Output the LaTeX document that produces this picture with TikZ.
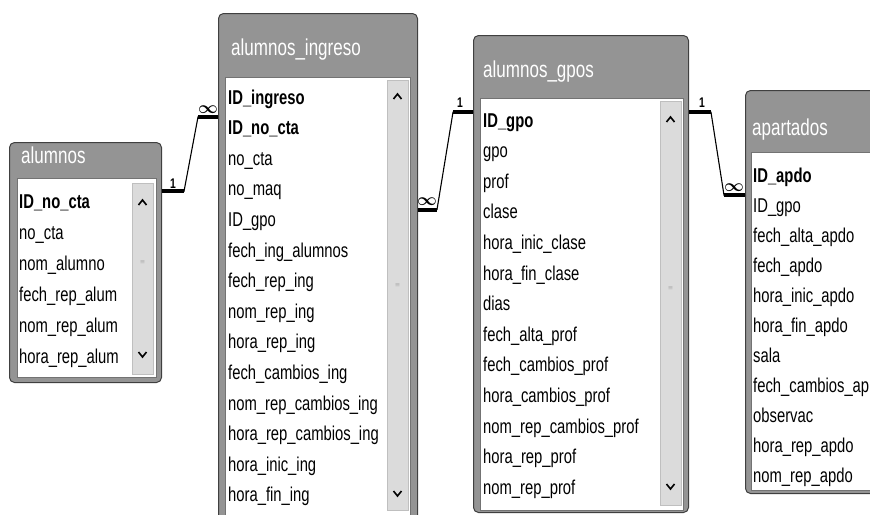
\documentclass[tikz,border=0pt]{standalone}
\usepackage{amsmath}
\usepackage{fontspec}
\setmainfont{Liberation Sans}[FakeStretch=0.74]
\begin{document}
\begin{tikzpicture}[x=1pt,y=-1pt,
  frame/.style={draw=black!75,line width=1pt,fill=black!42,rounded corners=5pt,inner sep=0pt,anchor=north west},
  inbox/.style={draw=black!55,line width=0.8pt,fill=white,inner sep=0pt,anchor=north west},
  ttl/.style={anchor=west,text=white,font=\fontsize{23}{23}\selectfont,inner sep=0pt},
  row/.style={anchor=base west,font=\fontsize{20}{20}\selectfont,inner sep=0pt},
  scroll/.style={fill=black!14,draw=black!25,line width=0.5pt},
  chev/.style={draw=black,line width=1.6pt},
  rel/.style={draw=black,line width=1.1pt},
  stub/.style={draw=black,line width=4pt},
  card/.style={font=\bfseries\fontsize{14}{14}\selectfont,inner sep=0pt},
  infl/.style={font=\bfseries\fontsize{17}{17}\selectfont,inner sep=0pt}]
\clip (0,0) rectangle (870,514);
\fill[white] (0,0) rectangle (870,514);

% ---------- alumnos ----------
\node[frame,minimum width=152pt,minimum height=240pt] (aF) at (9,142) {};
\node[inbox,minimum width=139pt,minimum height=199pt] (aI) at (17,178) {};
\node[ttl] (aT) at (21,155) {alumnos};
\fill[scroll] (132,183) rectangle (153,374);
\draw[chev] (138.5,205) -- (142.5,200) -- (146.5,205);
\draw[chev] (138.5,352) -- (142.5,357) -- (146.5,352);
\node[font=\tiny,text=black!50] (aM) at (142.5,262) {$\equiv$};
\foreach \t [count=\i from 0] in {{\bfseries ID\_no\_cta},no\_cta,nom\_alumno,fech\_rep\_alum,nom\_rep\_alum,hora\_rep\_alum}
  \node[row] (a\i) at (19,208+31*\i) {\t};

% ---------- alumnos_ingreso ----------
\node[frame,minimum width=199pt,minimum height=510pt] (iF) at (218,13) {};
\node[inbox,minimum width=185pt,minimum height=440pt] (iI) at (225,77) {};
\node[ttl] (iT) at (231,50) {alumnos\_ingreso};
\fill[scroll] (387,80) rectangle (408,510);
\draw[chev] (393.5,99) -- (397.5,94) -- (401.5,99);
\draw[chev] (393.5,491) -- (397.5,496) -- (401.5,491);
\node[font=\tiny,text=black!50] (iM) at (397.5,285) {$\equiv$};
\foreach \t [count=\i from 0] in {{\bfseries ID\_ingreso},{\bfseries ID\_no\_cta},no\_cta,no\_maq,ID\_gpo,fech\_ing\_alumnos,fech\_rep\_ing,nom\_rep\_ing,hora\_rep\_ing,fech\_cambios\_ing,nom\_rep\_cambios\_ing,hora\_rep\_cambios\_ing,hora\_inic\_ing,hora\_fin\_ing}
  \node[row] (i\i) at (228,104+30.6*\i) {\t};

% ---------- alumnos_gpos ----------
\node[frame,minimum width=215pt,minimum height=477pt] (gF) at (473,35) {};
\node[inbox,minimum width=203pt,minimum height=412pt] (gI) at (480,98) {};
\node[ttl] (gT) at (483,72) {alumnos\_gpos};
\fill[scroll] (660,101) rectangle (681,505);
\draw[chev] (666.5,122) -- (670.5,117) -- (674.5,122);
\draw[chev] (666.5,484) -- (670.5,489) -- (674.5,484);
\node[font=\tiny,text=black!50] (gM) at (670.5,288) {$\equiv$};
\foreach \t [count=\i from 0] in {{\bfseries ID\_gpo},gpo,prof,clase,hora\_inic\_clase,hora\_fin\_clase,dias,fech\_alta\_prof,fech\_cambios\_prof,hora\_cambios\_prof,nom\_rep\_cambios\_prof,hora\_rep\_prof,nom\_rep\_prof}
  \node[row] (g\i) at (483,127+30.6*\i) {\t};

% ---------- apartados ----------
\node[frame,minimum width=140pt,minimum height=403pt] (pF) at (745,90) {};
\node[inbox,minimum width=130pt,minimum height=338pt] (pI) at (751,152) {};
\node[ttl] (pT) at (752,130) {apartados};
\foreach \t [count=\i from 0] in {{\bfseries ID\_apdo},ID\_gpo,fech\_alta\_apdo,fech\_apdo,hora\_inic\_apdo,hora\_fin\_apdo,sala,fech\_cambios\_ap,observac,hora\_rep\_apdo,nom\_rep\_apdo}
  \node[row] (p\i) at (753,182+30*\i) {\t};

% ---------- relationships ----------
% alumnos (1) -- alumnos_ingreso (inf)
\path ([yshift=11pt]aF.east|-a0) coordinate (r1s) ++(22,0) coordinate (r1k)
      ([yshift=12pt]iF.west|-i1) coordinate (r1e) ++(-20,0) coordinate (r1j);
\draw[rel] (r1s) -- (r1k) -- (r1j) -- (r1e);
\draw[stub] (r1s) -- (r1k);
\draw[stub] (r1j) -- (r1e);
\node[card] (l1a) at (173,184) {1};
\node[infl] (l1b) at (208,110) {$\boldsymbol{\infty}$};

% alumnos_ingreso (inf) -- alumnos_gpos (1)
\path ([yshift=12pt]iF.east|-i4) coordinate (r2s) ++(19,0) coordinate (r2k)
      ([yshift=10pt]gF.west|-g0) coordinate (r2e) ++(-20,0) coordinate (r2j);
\draw[rel] (r2s) -- (r2k) -- (r2j) -- (r2e);
\draw[stub] (r2s) -- (r2k);
\draw[stub] (r2j) -- (r2e);
\node[infl] (l2a) at (427,202) {$\boldsymbol{\infty}$};
\node[card] (l2b) at (460,103) {1};

% alumnos_gpos (1) -- apartados (inf)
\path ([yshift=10pt]gF.east|-g0) coordinate (r3s) ++(22,0) coordinate (r3k)
      ([yshift=12pt]pF.west|-p1) coordinate (r3e) ++(-21,0) coordinate (r3j);
\draw[rel] (r3s) -- (r3k) -- (r3j) -- (r3e);
\draw[stub] (r3s) -- (r3k);
\draw[stub] (r3j) -- (r3e);
\node[card] (l3a) at (702,103) {1};
\node[infl] (l3b) at (734,188) {$\boldsymbol{\infty}$};
\end{tikzpicture}
\end{document}
